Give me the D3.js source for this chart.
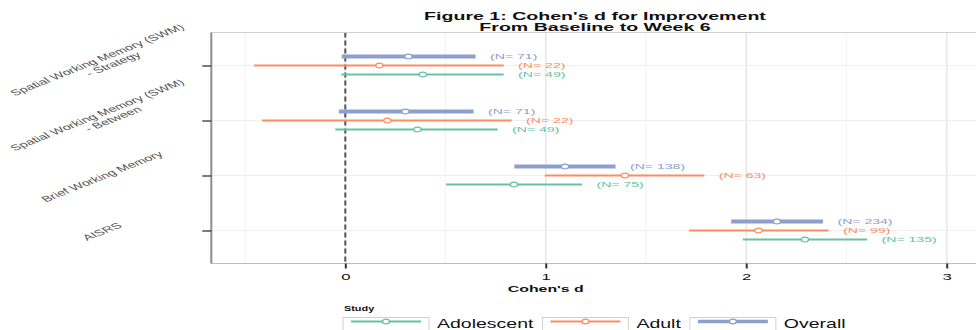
<!DOCTYPE html>
<html>
<head>
<meta charset="utf-8">
<script src="https://cdn.jsdelivr.net/npm/d3@7"></script>
<style>
  html, body { margin: 0; padding: 0; background: #fff; }
  svg { display: block; font-family: "Liberation Sans", Arial, sans-serif; }
</style>
</head>
<body>
<svg width="976" height="330"></svg>
<script>
// outcomes, top to bottom
var outcomes = ["Spatial Working Memory (SWM)\n- Strategy", "Spatial Working Memory (SWM)\n- Between", "Brief Working Memory", "AISRS"];
// rows inside each outcome, top to bottom
var studies = ["Overall", "Adult", "Adolescent"];
var legendOrder = ["Adolescent", "Adult", "Overall"];
var studyColors = { Overall: "#8da0cb", Adult: "#fc8d62", Adolescent: "#66c2a5" };

// Cohen's d with 95% CI and sample size, in the order of outcomes
var overallD  = [0.315, 0.30, 1.096, 2.153];
var overallLo = [-0.018, -0.032, 0.843, 1.925];
var overallHi = [0.65, 0.64, 1.348, 2.383];
var overallN  = [71, 71, 138, 234];

var adultD  = [0.17, 0.21, 1.395, 2.061];
var adultLo = [-0.455, -0.415, 0.995, 1.716];
var adultHi = [0.79, 0.83, 1.791, 2.411];
var adultN  = [22, 22, 63, 99];

var adolD  = [0.387, 0.36, 0.841, 2.293];
var adolLo = [-0.02, -0.05, 0.503, 1.984];
var adolHi = [0.79, 0.76, 1.181, 2.603];
var adolN  = [49, 49, 75, 135];

var xTicks = [0, 1, 2, 3];
var xMinor = [-0.5, 0.5, 1.5, 2.5, 3.5];

var series = { Overall: [overallD, overallLo, overallHi, overallN],
               Adult: [adultD, adultLo, adultHi, adultN],
               Adolescent: [adolD, adolLo, adolHi, adolN] };

var rows = [];
studies.forEach(s => {
  outcomes.forEach((o, i) => {
    rows.push({ study: s, outcome: o, d: series[s][0][i], lo: series[s][1][i], hi: series[s][2][i], n: series[s][3][i] });
  });
});

var svg = d3.select("svg");
var panel = { left: 211.3, top: 32.5, bottom: 263.5, right: 1060 };
var SX = 1.76; // the whole figure looks stretched sideways

var x = d3.scaleLinear().domain([0, 3]).range([345.3, 946.7]);
var y = d3.scalePoint().domain(outcomes).range([panel.top, panel.bottom]).padding(0.6);
var rowOff = d3.scalePoint().domain(studies).range([-9, 9]);

function stretched(g, tx, ty, sx, str) {
  return g.append("text")
    .attr("transform", `translate(${tx},${ty}) scale(${sx},1)`)
    .text(str);
}

// title
var title = svg.append("g").attr("font-weight", "bold").attr("font-size", 11)
  .attr("text-anchor", "middle").attr("fill", "#111");
stretched(title, 595, 20, 1.78, "Figure 1: Cohen's d for Improvement");
stretched(title, 595, 30.5, 1.78, "From Baseline to Week 6");

// panel background and grid
svg.append("rect")
  .attr("x", panel.left).attr("y", panel.top)
  .attr("width", panel.right - panel.left).attr("height", panel.bottom - panel.top)
  .attr("fill", "#fff");

svg.append("g").selectAll("line").data(xMinor).enter().append("line")
  .attr("x1", d => x(d)).attr("x2", d => x(d))
  .attr("y1", panel.top).attr("y2", panel.bottom)
  .attr("stroke", "#f4f4f4").attr("stroke-width", 1.2);

svg.append("g").selectAll("line").data(xTicks).enter().append("line")
  .attr("x1", d => x(d)).attr("x2", d => x(d))
  .attr("y1", panel.top).attr("y2", panel.bottom)
  .attr("stroke", "#e8e8e8").attr("stroke-width", 1.6);

svg.append("g").selectAll("line").data(outcomes).enter().append("line")
  .attr("x1", panel.left).attr("x2", panel.right)
  .attr("y1", d => y(d)).attr("y2", d => y(d))
  .attr("stroke", "#eeeeee").attr("stroke-width", 1);

// reference line at zero
svg.append("line")
  .attr("x1", x(0)).attr("x2", x(0))
  .attr("y1", panel.top).attr("y2", panel.bottom)
  .attr("stroke", "#555").attr("stroke-width", 2)
  .attr("stroke-dasharray", "5,3");

// error bars
var marks = svg.append("g");
marks.selectAll("line.ci").data(rows).enter().append("line")
  .attr("class", "ci")
  .attr("x1", d => x(d.lo)).attr("x2", d => x(d.hi))
  .attr("y1", d => y(d.outcome) + rowOff(d.study))
  .attr("y2", d => y(d.outcome) + rowOff(d.study))
  .attr("stroke", d => studyColors[d.study])
  .attr("stroke-width", d => d.study === "Overall" ? 4 : 2);

marks.selectAll("ellipse").data(rows).enter().append("ellipse")
  .attr("cx", d => x(d.d))
  .attr("cy", d => y(d.outcome) + rowOff(d.study))
  .attr("rx", 3.6).attr("ry", 2.4)
  .attr("fill", "#fff")
  .attr("stroke", d => studyColors[d.study])
  .attr("stroke-width", 1.3);

// N labels
marks.selectAll("text").data(rows).enter().append("text")
  .attr("transform", d => `translate(${x(d.hi + 0.072)},${y(d.outcome) + rowOff(d.study)}) scale(${SX},1)`)
  .attr("dy", "0.35em")
  .attr("font-size", 8)
  .attr("fill", d => studyColors[d.study])
  .text(d => `(N= ${d.n})`);

// panel border
svg.append("line").attr("x1", panel.left).attr("x2", panel.right)
  .attr("y1", panel.top).attr("y2", panel.top).attr("stroke", "#cfcfcf").attr("stroke-width", 1);
svg.append("line").attr("x1", panel.left).attr("x2", panel.right)
  .attr("y1", panel.bottom).attr("y2", panel.bottom).attr("stroke", "#bdbdbd").attr("stroke-width", 1);
svg.append("line").attr("x1", panel.left).attr("x2", panel.left)
  .attr("y1", panel.top).attr("y2", panel.bottom).attr("stroke", "#8c8c8c").attr("stroke-width", 2);

// x axis
var xAxis = svg.append("g")
  .attr("transform", `translate(0,${panel.bottom})`)
  .call(d3.axisBottom(x).tickValues(xTicks).tickSize(5).tickPadding(5).tickFormat(d3.format("d")));
xAxis.select(".domain").remove();
xAxis.selectAll(".tick line").attr("stroke", "#333").attr("stroke-width", 2);
xAxis.selectAll(".tick text")
  .attr("font-family", null)
  .attr("font-size", 9.5)
  .attr("fill", "#111")
  .attr("transform", `scale(${SX},1)`);

svg.append("g").attr("font-weight", "bold").attr("font-size", 9)
  .attr("text-anchor", "middle").attr("fill", "#111")
  .call(g => stretched(g, x(1), 292, SX, "Cohen's d"));

// y axis
var yAxis = svg.append("g")
  .attr("transform", `translate(${panel.left},0)`)
  .call(d3.axisLeft(y).tickSize(9).tickFormat(""));
yAxis.select(".domain").remove();
yAxis.selectAll(".tick line").attr("stroke", "#333").attr("stroke-width", 1.3);

// rotated category labels; each line is placed by its centre
var ANG = 35;
var yLab = svg.append("g").attr("font-size", 8.3).attr("fill", "#555")
  .attr("text-anchor", "middle");
outcomes.forEach(o => {
  var lines = o.split("\n");
  lines.forEach((l, i) => {
    var cx = lines.length === 1 ? 102 : (i === 0 ? 97 : 113);
    var cy = lines.length === 1 ? 1 : (i === 0 ? -5.5 : -1.5);
    yLab.append("text")
      .attr("transform", `translate(${cx},${y(o) + cy}) scale(${SX},1) rotate(${-ANG})`)
      .attr("dy", "0.35em")
      .text(l);
  });
});

// legend
var leg = svg.append("g");
leg.append("text")
  .attr("transform", `translate(344,310.5) scale(1.45,1)`)
  .attr("font-weight", "bold").attr("font-size", 7.5).attr("fill", "#111")
  .text("Study");

var lx = 343;
legendOrder.forEach(s => {
  var g = leg.append("g").attr("transform", `translate(${lx},317.5)`);
  g.append("rect").attr("width", 86).attr("height", 22)
    .attr("fill", "#fff").attr("stroke", "#d0d0d0").attr("stroke-width", 1);
  g.append("line").attr("x1", 8).attr("x2", 78).attr("y1", 4).attr("y2", 4)
    .attr("stroke", studyColors[s]).attr("stroke-width", s === "Overall" ? 3.5 : 2);
  g.append("ellipse").attr("cx", 43).attr("cy", 4).attr("rx", 3.5).attr("ry", 2.3)
    .attr("fill", "#fff").attr("stroke", studyColors[s]).attr("stroke-width", 1.3);
  var t = g.append("text")
    .attr("transform", `translate(94,10.5) scale(1.5,1)`)
    .attr("font-size", 13).attr("fill", "#111")
    .text(s);
  lx += 94 + t.node().getComputedTextLength() * 1.5 + 9;
});
</script>
</body>
</html>
